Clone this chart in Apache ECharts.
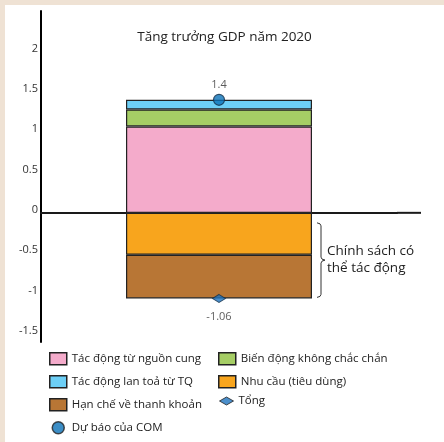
<!DOCTYPE html>
<html>
<head>
<meta charset="utf-8">
<script src="https://cdn.jsdelivr.net/npm/echarts@6/dist/echarts.min.js"></script>
<style>
html,body{margin:0;padding:0;background:#EFE2D4;}
#c{position:absolute;left:5px;top:5px;width:439px;height:437px;background:#fff;}
</style>
</head>
<body>
<div id="c"></div>
<script>
const categories = ['2020'];
const title = 'Tăng trưởng GDP năm 2020';
const supply = [1.07];       // Tác động từ nguồn cung
const uncertainty = [0.21];  // Biến động không chắc chắn
const chinaSpill = [0.12];   // Tác động lan toả từ TQ
const demand = [-0.52];      // Nhu cầu (tiêu dùng)
const liquidity = [-0.54];   // Hạn chế về thanh khoản
const comForecast = [1.4];   // Dự báo của COM
const total = [-1.06];       // Tổng
const yTicks = [-1.5, -1, -0.5, 0, 0.5, 1, 1.5, 2];
const annotation = 'Chính sách có\nthể tác động';

const FONT = 'Open Sans';
const chart = echarts.init(document.getElementById('c'));
const border = {borderColor: '#222', borderWidth: 1.2};
const legendText = {fontSize: 11.5, color: '#222', lineHeight: 12, fontFamily: FONT};
const option = {
  animation: false,
  textStyle: {fontFamily: FONT},
  title: {text: title, left: 'center', top: 20, textStyle: {fontFamily: FONT, fontSize: 13.5, fontWeight: 'normal', color: '#222'}},
  grid: {left: 36, right: 47, top: 6, height: 331, containLabel: false},
  xAxis: {
    type: 'category', data: categories,
    axisLine: {onZero: true, lineStyle: {color: '#1a1a1a', width: 2}, symbol: ['none', 'rect'], symbolSize: [2, 24], symbolOffset: [0, 12]},
    axisTick: {show: false}, axisLabel: {show: false}, splitLine: {show: false}
  },
  yAxis: {
    type: 'value', min: -1.6, max: 2.5, interval: 0.1,
    axisLine: {show: true, lineStyle: {color: '#000', width: 2}},
    axisTick: {show: false}, splitLine: {show: false},
    axisLabel: {
      color: '#333', fontSize: 11, margin: 3, verticalAlign: 'bottom', lineHeight: 6,
      formatter: function (v) {
        for (const t of yTicks) if (Math.abs(t - v) < 1e-6) return String(t);
        return '';
      }
    }
  },
  legend: [
    {orient: 'vertical', left: 44, top: 347, padding: 0, itemGap: 9.5, itemWidth: 17, itemHeight: 12,
     textStyle: legendText,
     itemStyle: {borderColor: '#222', borderWidth: 1.5},
     data: [{name: 'Tác động từ nguồn cung', icon: 'rect'}, {name: 'Tác động lan toả từ TQ', icon: 'rect'}, {name: 'Hạn chế về thanh khoản', icon: 'rect'}, {name: 'Dự báo của COM', icon: 'circle'}]},
    {orient: 'vertical', left: 213, top: 347, padding: 0, itemGap: 9.5, itemWidth: 17, itemHeight: 12,
     textStyle: legendText,
     itemStyle: {borderColor: '#222', borderWidth: 1.5},
     data: [{name: 'Biến động không chắc chắn', icon: 'rect'}, {name: 'Nhu cầu (tiêu dùng)', icon: 'rect'}]},
    {orient: 'vertical', left: 214, top: 390, padding: 0, itemWidth: 14, itemHeight: 8, symbolKeepAspect: false,
     textStyle: legendText,
     itemStyle: {borderColor: '#222', borderWidth: 1},
     data: [{name: 'Tổng', icon: 'diamond'}]}
  ],
  series: [
    {name: 'Tác động từ nguồn cung', type: 'bar', stack: 's', barWidth: 186, data: supply, itemStyle: Object.assign({color: '#F4ABCB'}, border)},
    {name: 'Biến động không chắc chắn', type: 'bar', stack: 's', barWidth: 186, data: uncertainty, itemStyle: Object.assign({color: '#A6CE65'}, border)},
    {name: 'Tác động lan toả từ TQ', type: 'bar', stack: 's', barWidth: 186, data: chinaSpill, itemStyle: Object.assign({color: '#6DCFF6'}, border)},
    {name: 'Nhu cầu (tiêu dùng)', type: 'bar', stack: 's', barWidth: 186, data: demand, itemStyle: Object.assign({color: '#F8A51D'}, border)},
    {name: 'Hạn chế về thanh khoản', type: 'bar', stack: 's', barWidth: 186, data: liquidity, itemStyle: Object.assign({color: '#B87635'}, border)},
    {name: 'Dự báo của COM', type: 'scatter', data: comForecast, symbol: 'circle', symbolSize: 11, z: 5,
     itemStyle: {color: '#0B72B8', borderColor: '#14304A', borderWidth: 1.2},
     label: {show: true, position: 'top', distance: 3, fontSize: 11, color: '#333'}},
    {name: 'Tổng', type: 'scatter', data: total, symbol: 'diamond', symbolSize: [13, 8], z: 5,
     itemStyle: {color: '#1E73BE', borderColor: '#14304A', borderWidth: 1},
     label: {show: true, position: 'bottom', distance: 9, fontSize: 11, color: '#333'}}
  ]
};
chart.setOption(option);

// bracket annotation spanning the negative (policy) components
const catX = chart.convertToPixel({xAxisIndex: 0}, 0);
const xb = catX + 93 + 9;
const yTop = chart.convertToPixel({yAxisIndex: 0}, 0) + 10;
const yBot = chart.convertToPixel({yAxisIndex: 0}, demand[0] + liquidity[0]) - 1;
const yMid = (yTop + yBot) / 2;
chart.setOption({
  graphic: [
    {type: 'polyline', shape: {points: [
      [xb - 4, yTop], [xb - 1, yTop + 1], [xb, yTop + 3],
      [xb, yMid - 3], [xb + 1, yMid - 1], [xb + 4, yMid],
      [xb + 1, yMid + 1], [xb, yMid + 3],
      [xb, yBot - 3], [xb - 1, yBot - 1], [xb - 4, yBot]]},
     style: {stroke: '#333', lineWidth: 1, fill: null}},
    {type: 'text', x: xb + 6, y: yMid, style: {text: annotation, font: '13.5px "Open Sans"', fill: '#222', lineHeight: 17, verticalAlign: 'middle', align: 'left'}}
  ]
});
</script>
</body>
</html>
